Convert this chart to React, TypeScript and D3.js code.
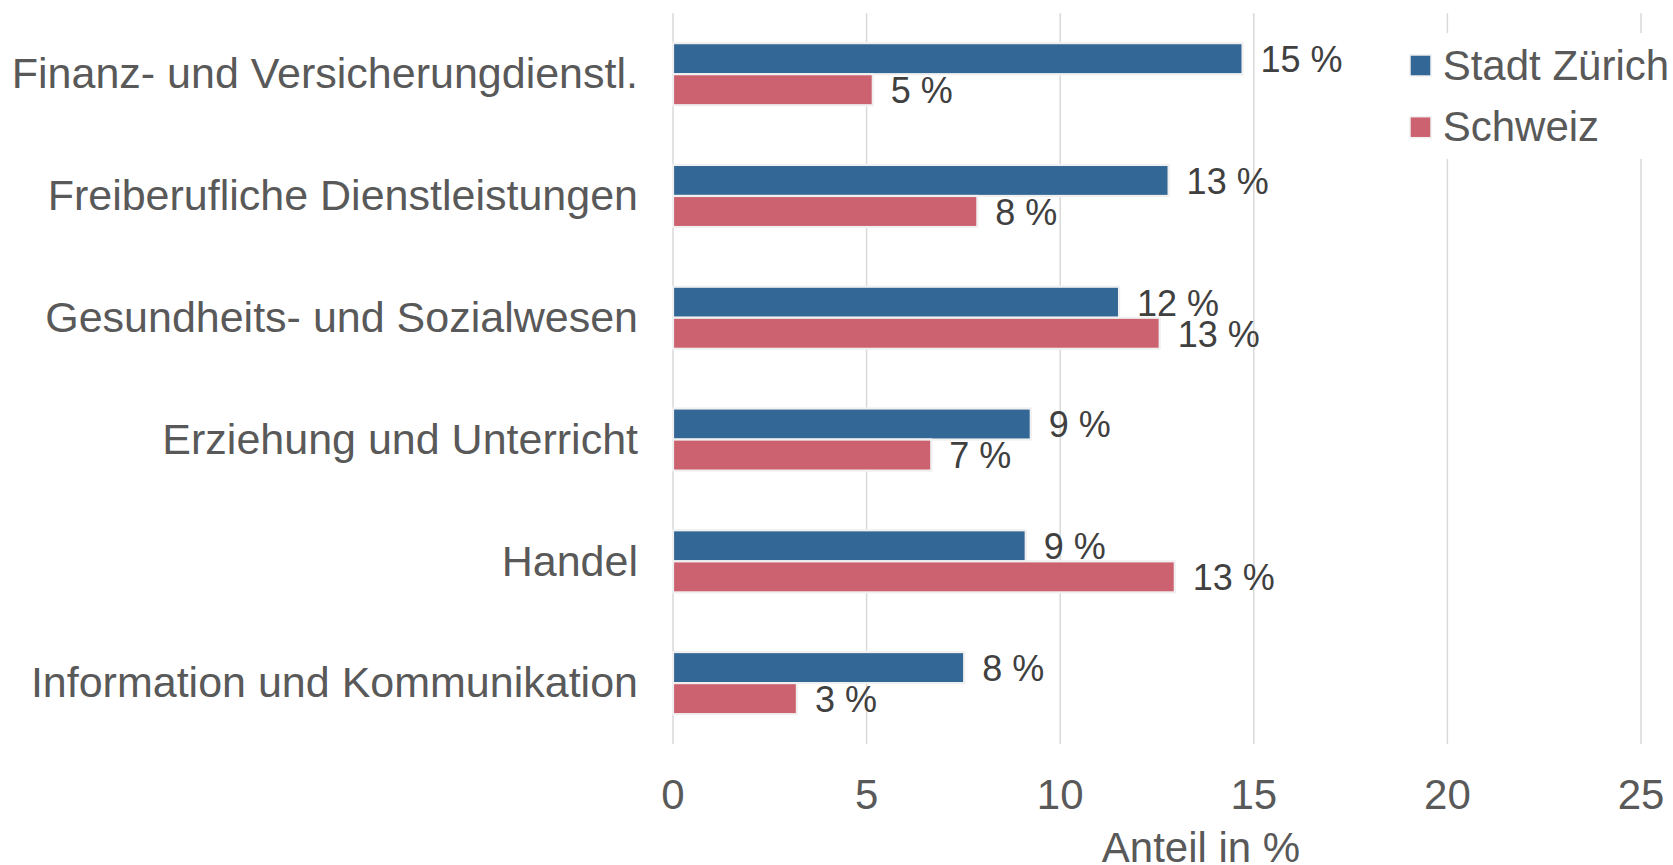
import React from "react";
import * as d3 from "d3";

const categories = [
  "Finanz- und Versicherungdienstl.",
  "Freiberufliche Dienstleistungen",
  "Gesundheits- und Sozialwesen",
  "Erziehung und Unterricht",
  "Handel",
  "Information und Kommunikation",
];
const seriesNames = ["Stadt Zürich", "Schweiz"];
const stadtZuerich = [14.71, 12.8, 11.52, 9.24, 9.11, 7.52];
const schweiz = [5.16, 7.86, 12.57, 6.67, 12.96, 3.2];
const xTicks = [0, 5, 10, 15, 20, 25];
const colors = ["#336795", "#cc616f"];
const axisTitle = "Anteil in %";

const W = 1673;
const H = 865;
const FONT = "'Liberation Sans', Arial, Helvetica, sans-serif";

export default function App() {
  const x = d3.scaleLinear().domain([0, 25]).range([673, 1641]);
  const y = d3
    .scaleBand<string>()
    .domain(categories)
    .range([13.3, 744])
    .paddingInner(0.49)
    .paddingOuter(0.245);
  const sub = d3
    .scaleBand<string>()
    .domain(seriesNames)
    .range([0, y.bandwidth()]);
  const series = [stadtZuerich, schweiz];

  return (
    <svg
      width={W}
      height={H}
      style={{ position: "fixed", left: 0, top: 0, background: "#fff" }}
      fontFamily={FONT}
    >
      <rect x={0} y={0} width={W} height={H} fill="#fff" />
      {/* gridlines */}
      {xTicks.map((t) => (
        <line
          key={"g" + t}
          x1={x(t)}
          x2={x(t)}
          y1={13.3}
          y2={744}
          stroke="#d9d9d9"
          strokeWidth={1.5}
        />
      ))}
      {/* tick labels */}
      {xTicks.map((t) => (
        <text
          key={"t" + t}
          x={x(t)}
          y={809}
          textAnchor="middle"
          fontSize={42}
          fill="#595959"
        >
          {t}
        </text>
      ))}
      <text x={1201} y={862} textAnchor="middle" fontSize={42} fill="#595959">
        {axisTitle}
      </text>
      {/* category labels */}
      {categories.map((c) => (
        <text
          key={"c" + c}
          x={638}
          y={(y(c) as number) + y.bandwidth() / 2}
          dy="0.33em"
          textAnchor="end"
          fontSize={43}
          fill="#595959"
        >
          {c}
        </text>
      ))}
      {/* bars */}
      {series.map((vals, si) =>
        categories.map((c, ci) => {
          const y0 = (y(c) as number) + (sub(seriesNames[si]) as number);
          const v = vals[ci];
          return (
            <g key={si + "-" + ci}>
              <rect
                x={x(0)}
                y={y0}
                width={x(v) - x(0)}
                height={sub.bandwidth()}
                fill={colors[si]}
                stroke="#f0f0f0"
                strokeWidth={2.2}
              />
              <text
                x={x(v) + 18}
                y={y0 + sub.bandwidth() / 2}
                dy="0.37em"
                fontSize={36}
                fill="#404040"
              >
                {Math.round(v) + " %"}
              </text>
            </g>
          );
        })
      )}
      {/* legend */}
      <rect x={1400} y={33} width={W - 1400} height={126} fill="#fff" />
      {seriesNames.map((s, i) => (
        <g key={"l" + s} transform={`translate(0, ${i * 61.7})`}>
          <rect
            x={1410}
            y={55}
            width={21}
            height={21}
            fill={colors[i]}
            stroke="#f0f0f0"
            strokeWidth={1.5}
          />
          <text x={1442.7} y={79.5} fontSize={42} fill="#595959">
            {s}
          </text>
        </g>
      ))}
    </svg>
  );
}
